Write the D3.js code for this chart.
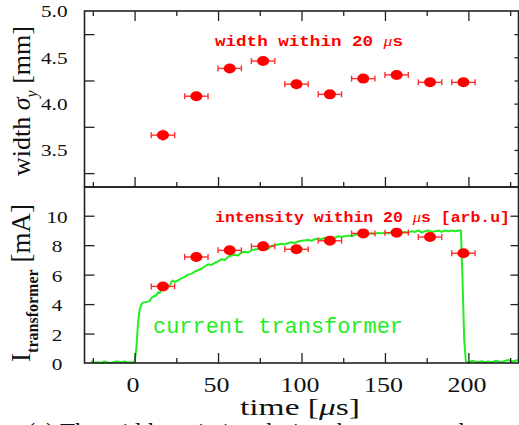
<!DOCTYPE html>
<html>
<head>
<meta charset="utf-8">
<script src="https://cdn.jsdelivr.net/npm/d3@7"></script>
<style>
  body { margin: 0; background: #fff; }
  svg { display: block; }
</style>
</head>
<body>
<svg id="chart" width="519" height="425"></svg>
<script>
// measured points (time bins of 20 us)
var binTime = [17, 37, 57, 77, 97, 117, 137, 157, 177, 197];
var binHalfWidth = [7, 7, 7, 7, 7, 7, 7, 7, 7, 7];
var widthSigma = [3.66, 4.08, 4.38, 4.46, 4.21, 4.10, 4.27, 4.31, 4.23, 4.23];
var widthErr = [0.06, 0.04, 0.04, 0.02, 0.04, 0.02, 0.04, 0.03, 0.03, 0.03];
var intensity = [5.2, 7.2, 7.65, 7.92, 7.72, 8.3, 8.8, 8.85, 8.55, 7.45];
var intensityErr = [0.3, 0.2, 0.3, 0.2, 0.3, 0.2, 0.3, 0.3, 0.3, 0.2];

// current transformer trace
var ctTime = [-26, -24, -22, -20, -18, -16, -14, -12, -10, -8, -6, -4, -2, 0,
    1, 2, 3, 4, 5, 7, 9, 10, 11, 12, 13, 14, 15, 16, 17, 18, 19, 20, 21, 22, 23, 24,
    26, 28, 30, 32, 34, 36, 38, 40, 42, 44, 46, 48, 50, 52, 54, 56, 58, 60, 62, 64,
    66, 68, 70, 72, 74, 76, 78, 80, 82, 84, 86, 88, 90, 92, 94, 96, 98, 100, 104,
    106, 108, 110, 112, 114, 116, 118, 120, 122, 124, 126, 128, 130, 132, 134, 136,
    138, 140, 142, 144, 146, 148, 150, 152, 154, 156, 158, 160, 162, 164, 166, 168,
    170, 172, 174, 176, 178, 180, 182, 184, 186, 188, 190, 192, 194, 195.5, 196.5,
    197.5, 198.5, 200, 202, 204, 206, 208, 210, 212, 214, 216, 218, 220, 222, 224,
    226, 228, 230];
var ctCurrent = [0.12, 0.02, 0.05, 0.0, 0.1, 0.03, 0.0, 0.08, 0.1, 0.06, 0.1, 0.04, 0.05, 0.05,
    0.9, 2.6, 3.6, 3.95, 4.1, 4.15, 4.2, 4.4, 4.5, 4.55, 4.6, 4.8, 4.75, 5.0, 5.05, 4.95, 5.15, 5.25, 5.2, 5.5, 5.6, 5.5,
    5.6, 5.75, 5.85, 6.0, 6.05, 6.2, 6.3, 6.4, 6.55, 6.7, 6.65, 6.8, 6.9, 7.05, 7.0, 7.2, 7.3, 7.35, 7.3, 7.5,
    7.55, 7.5, 7.65, 7.7, 7.75, 7.85, 7.9, 7.75, 7.95, 8.0, 8.05, 8.1, 8.05, 8.15, 8.2, 8.15, 8.25, 8.3, 8.35,
    8.3, 8.4, 8.45, 8.4, 8.5, 8.45, 8.55, 8.5, 8.6, 8.55, 8.6, 8.65, 8.6, 8.7, 8.75, 8.8,
    8.7, 8.75, 8.8, 8.75, 8.85, 8.8, 8.85, 8.8, 8.9, 8.85, 8.95, 8.85, 8.9, 8.85, 8.95, 8.9,
    9.0, 8.85, 8.95, 9.0, 8.9, 8.95, 9.0, 8.9, 9.0, 8.95, 9.0, 8.95, 9.0, 9.0, 5.5,
    1.5, 0.1, 0.0, 0.15, 0.1, 0.05, 0.12, 0.05, 0.1, 0.05, 0.15, 0.1, 0.05, 0.15, 0.2,
    0.1, 0.15, 0.2];

// ticks
var timeMajor = [0, 50, 100, 150, 200];
var timeMinor = [-25, 25, 75, 125, 175, 225];
var widthLabels = [3.5, 4.0, 4.5, 5.0];
var widthMinor = [3.25, 3.75, 4.25, 4.75];
var widthAll = [3.25, 3.5, 3.75, 4.0, 4.25, 4.5, 4.75];
var currentTicks = [0, 2, 4, 6, 8, 10];

var svg = d3.select("#chart");
var serif = "'Liberation Serif', 'Times New Roman', serif";
var mono = "'Liberation Mono', 'Courier New', monospace";
var red = "#ff0000";
var green = "#22ee22";

var x = d3.scaleLinear().domain([-30, 230]).range([84.5, 518.5]);
var yTop = d3.scaleLinear().domain([3.1, 5.0]).range([187, 11]);
var yBot = d3.scaleLinear().domain([0, 11.95]).range([363, 187]);

// small helper for tick-only axes
function ticks(axis, values, size, tx, ty) {
    svg.append("g")
        .attr("transform", "translate(" + tx + "," + ty + ")")
        .call(axis.tickValues(values).tickSize(size).tickFormat(""))
        .call(function (g) {
            g.select(".domain").remove();
            g.selectAll("line").attr("stroke", "#222").attr("stroke-width", 1.3);
        });
}

// ---- green trace (under the points)
var line = d3.line()
    .x(function (d, i) { return x(ctTime[i]); })
    .y(function (d) { return yBot(d); });
svg.append("path")
    .attr("d", line(ctCurrent))
    .attr("fill", "none")
    .attr("stroke", green)
    .attr("stroke-width", 2)
    .attr("stroke-linejoin", "round");

// ---- error bars + markers
function drawPoints(yScale, vals, errs) {
    var g = svg.append("g");
    var cap = 3;
    binTime.forEach(function (t, i) {
        var cx = x(t), cy = yScale(vals[i]);
        var x0 = x(t - binHalfWidth[i]), x1 = x(t + binHalfWidth[i]);
        g.append("line").attr("x1", x0).attr("x2", x1).attr("y1", cy).attr("y2", cy);
        g.append("line").attr("x1", x0).attr("x2", x0).attr("y1", cy - cap).attr("y2", cy + cap);
        g.append("line").attr("x1", x1).attr("x2", x1).attr("y1", cy - cap).attr("y2", cy + cap);
        g.append("line").attr("x1", cx).attr("x2", cx)
            .attr("y1", yScale(vals[i] - errs[i])).attr("y2", yScale(vals[i] + errs[i]));
        g.append("ellipse").attr("cx", cx).attr("cy", cy).attr("rx", 6).attr("ry", 5)
            .attr("fill", red).attr("stroke", "none");
    });
    g.selectAll("line").attr("stroke", "#ff3030").attr("stroke-width", 1.4);
}
drawPoints(yTop, widthSigma, widthErr);
drawPoints(yBot, intensity, intensityErr);

// ---- frames
svg.append("rect").attr("x", x(-30)).attr("y", yTop(5.0))
    .attr("width", x(230) - x(-30)).attr("height", yTop(3.1) - yTop(5.0))
    .attr("fill", "none").attr("stroke", "#222").attr("stroke-width", 1.6);
svg.append("rect").attr("x", x(-30)).attr("y", yBot(11.95))
    .attr("width", x(230) - x(-30)).attr("height", yBot(0) - yBot(11.95))
    .attr("fill", "none").attr("stroke", "#222").attr("stroke-width", 1.6);

// ---- tick marks (inside)
ticks(d3.axisBottom(x), timeMajor, 10, 0, yTop(5.0));
ticks(d3.axisBottom(x), timeMinor, 5, 0, yTop(5.0));
ticks(d3.axisTop(x), timeMajor, 10, 0, yTop(3.1));
ticks(d3.axisTop(x), timeMinor, 5, 0, yTop(3.1));
ticks(d3.axisRight(yTop), widthMinor, 10, x(-30), 0);
ticks(d3.axisLeft(yTop), widthAll, 4, x(230), 0);

ticks(d3.axisTop(x), timeMajor, 10, 0, yBot(0));
ticks(d3.axisTop(x), timeMinor, 5, 0, yBot(0));
ticks(d3.axisRight(yBot), currentTicks.slice(1), 10, x(-30), 0);
ticks(d3.axisLeft(yBot), currentTicks.slice(1), 8, x(230), 0);

// ---- tick labels
svg.append("g")
    .attr("transform", "translate(" + x(-30) + ",0)")
    .call(d3.axisLeft(yTop).tickValues(widthLabels).tickSize(0).tickFormat(d3.format(".1f")))
    .call(function (g) {
        g.select(".domain").remove();
        g.selectAll("text")
            .attr("x", 0).attr("dy", "0.34em")
            .attr("transform", "translate(-17,0) scale(1.25,1)")
            .attr("font-family", serif).attr("font-size", 17).attr("fill", "#111");
    });

svg.append("g")
    .attr("transform", "translate(" + x(-30) + ",0)")
    .call(d3.axisLeft(yBot).tickValues(currentTicks).tickSize(0).tickFormat(d3.format("d")))
    .call(function (g) {
        g.select(".domain").remove();
        g.selectAll("text")
            .attr("x", 0).attr("dy", "0.34em")
            .attr("text-anchor", "middle")
            .attr("transform", "translate(-27.5,1) scale(1.25,1)")
            .attr("font-family", serif).attr("font-size", 17).attr("fill", "#111");
    });

svg.append("g")
    .attr("transform", "translate(0," + yBot(0) + ")")
    .call(d3.axisBottom(x).tickValues(timeMajor).tickSize(0).tickFormat(d3.format("d")))
    .call(function (g) {
        g.select(".domain").remove();
        g.selectAll("text")
            .attr("y", 0).attr("dy", 0)
            .attr("transform", "translate(-2,29) scale(1.3,1)")
            .attr("font-family", serif).attr("font-size", 20).attr("fill", "#111");
    });

// ---- axis titles
var tt = svg.append("text")
    .attr("x", 300).attr("y", 415)
    .attr("text-anchor", "middle")
    .attr("font-family", serif).attr("font-size", 24).attr("fill", "#111")
    .attr("textLength", 120).attr("lengthAdjust", "spacingAndGlyphs");
tt.append("tspan").text("time [");
tt.append("tspan").attr("font-style", "italic").text("\u03bc");
tt.append("tspan").text("s]");

var yt = svg.append("text")
    .attr("transform", "translate(30,101) rotate(-90)")
    .attr("text-anchor", "middle")
    .attr("font-family", serif).attr("font-size", 26).attr("fill", "#111");
yt.append("tspan").text("width ");
yt.append("tspan").attr("font-style", "italic").text("\u03c3");
yt.append("tspan").attr("font-style", "italic").attr("font-size", 16).attr("dy", 7).text("y");
yt.append("tspan").attr("dy", -7).text(" [mm]");

var yb = svg.append("text")
    .attr("transform", "translate(30,283) rotate(-90)")
    .attr("text-anchor", "middle")
    .attr("font-family", serif).attr("font-size", 27).attr("fill", "#111");
yb.append("tspan").text("I");
yb.append("tspan").attr("font-size", 16).attr("font-weight", "bold").attr("dy", 8).text("transformer");
yb.append("tspan").attr("dy", -8).text(" [mA]");

// ---- in-plot labels
var l1 = svg.append("text")
    .attr("x", 215).attr("y", 45.5)
    .attr("font-family", mono).attr("font-weight", "bold").attr("font-size", 15)
    .attr("fill", red)
    .attr("textLength", 188).attr("lengthAdjust", "spacingAndGlyphs");
l1.append("tspan").text("width within 20 ");
l1.append("tspan").attr("font-family", serif).attr("font-style", "italic").attr("font-weight", "normal").text("\u03bc");
l1.append("tspan").text("s");

var l2 = svg.append("text")
    .attr("x", 215).attr("y", 221.5)
    .attr("font-family", mono).attr("font-weight", "bold").attr("font-size", 15)
    .attr("fill", red)
    .attr("textLength", 295).attr("lengthAdjust", "spacingAndGlyphs");
l2.append("tspan").text("intensity within 20 ");
l2.append("tspan").attr("font-family", serif).attr("font-style", "italic").attr("font-weight", "normal").text("\u03bc");
l2.append("tspan").text("s [arb.u]");

svg.append("text")
    .attr("x", 153).attr("y", 333)
    .attr("font-family", mono).attr("font-size", 22)
    .attr("fill", green)
    .attr("textLength", 250).attr("lengthAdjust", "spacingAndGlyphs")
    .text("current transformer");

// ---- caption (cut by the page edge)
svg.append("text")
    .attr("x", 27).attr("y", 439)
    .attr("font-family", serif).attr("font-size", 24).attr("fill", "#111")
    .attr("textLength", 500).attr("lengthAdjust", "spacingAndGlyphs")
    .text("(a)  The width variation during the macro pulse and");
</script>
</body>
</html>
